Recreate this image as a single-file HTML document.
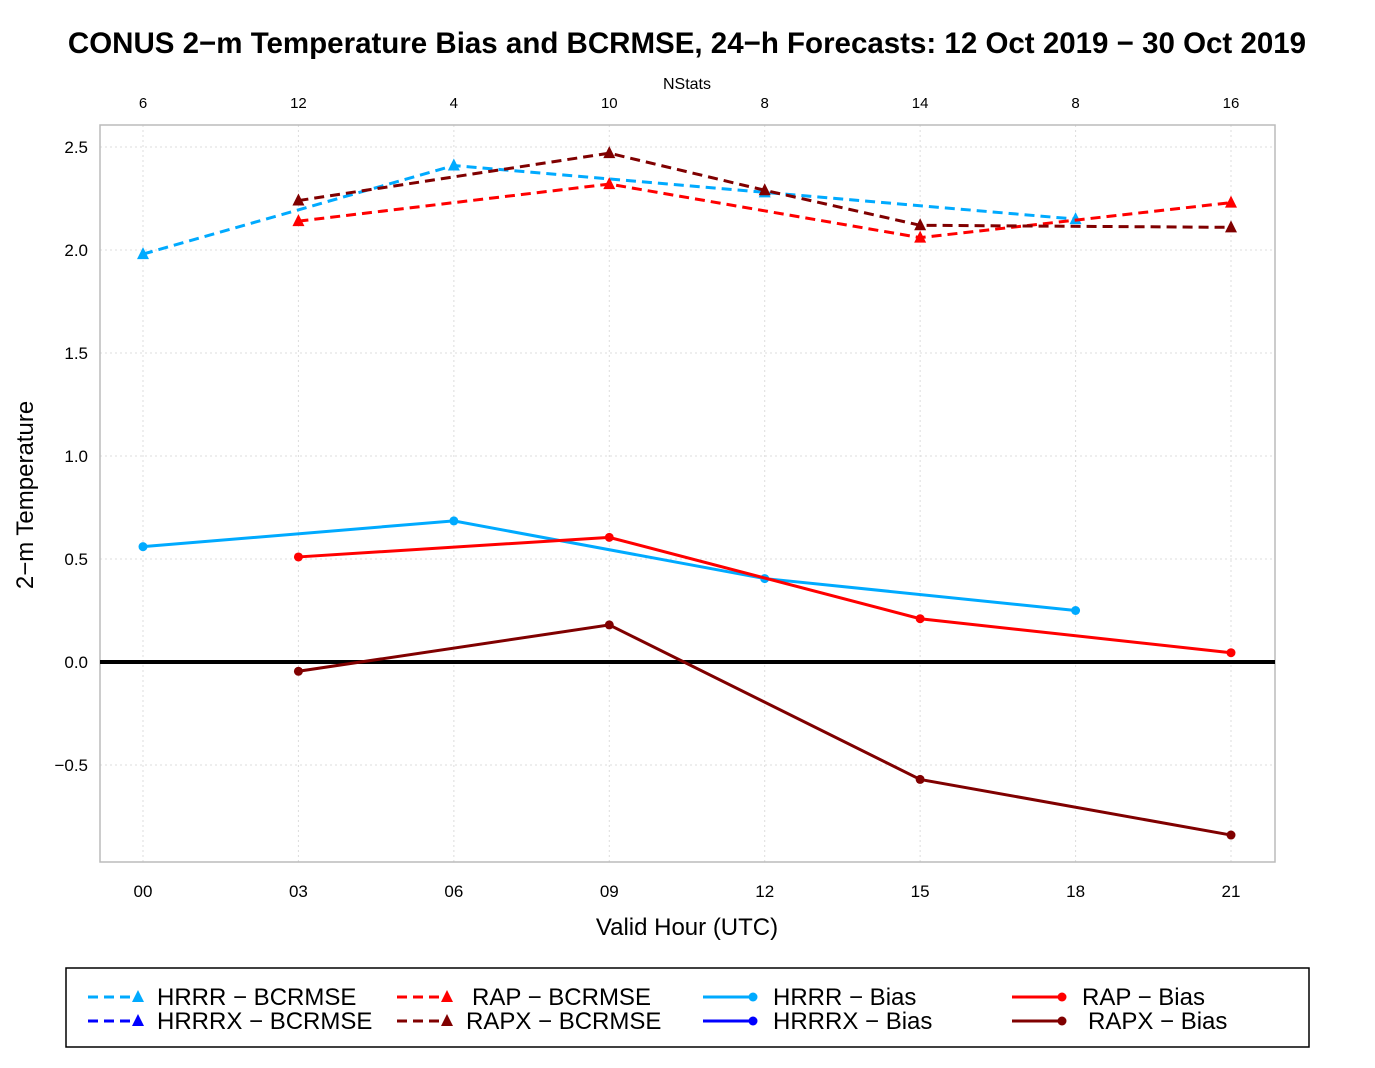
<!DOCTYPE html>
<html><head><meta charset="utf-8"><style>
body{margin:0;background:#fff;font-family:"Liberation Sans",sans-serif;}
svg text{font-family:"Liberation Sans",sans-serif;}
</style></head><body>
<svg id="chart" width="1375" height="1063" xmlns="http://www.w3.org/2000/svg">
<text x="687" y="53" text-anchor="middle" font-size="29.5" font-weight="bold">CONUS 2−m Temperature Bias and BCRMSE, 24−h Forecasts: 12 Oct 2019 − 30 Oct 2019</text>
<g id="grid"></g>
<rect x="100" y="125" width="1175" height="737" fill="none" stroke="#bbb" stroke-width="1.5"/>
<g id="axes"></g>
<g id="series"></g>
<text x="687" y="935" text-anchor="middle" font-size="24">Valid Hour (UTC)</text>
<text x="687" y="89" text-anchor="middle" font-size="16">NStats</text>
<text transform="translate(33,495) rotate(-90)" text-anchor="middle" font-size="24">2−m Temperature</text>
<rect x="66" y="968" width="1243" height="79" fill="none" stroke="#000" stroke-width="1.5"/>
<g id="legend"></g>
</svg>
<script>
const hours=[0,3,6,9,12,15,18,21];
const hourLabels=["00","03","06","09","12","15","18","21"];
const nstats=[6,12,4,10,8,14,8,16];
const yTicks=[-0.5,0,0.5,1,1.5,2,2.5];
const yTickLabels=["−0.5","0.0","0.5","1.0","1.5","2.0","2.5"];
const hrrrRmseHours=[0,6,12,18];
const hrrrRmse=[1.98,2.41,2.28,2.15];
const rapRmseHours=[3,9,15,21];
const rapRmse=[2.14,2.32,2.06,2.23];
const rapxRmseHours=[3,9,12,15,21];
const rapxRmse=[2.24,2.47,2.29,2.12,2.11];
const hrrrBiasHours=[0,6,12,18];
const hrrrBias=[0.56,0.685,0.405,0.25];
const rapBiasHours=[3,9,15,21];
const rapBias=[0.51,0.605,0.21,0.045];
const rapxBiasHours=[3,9,15,21];
const rapxBias=[-0.045,0.18,-0.57,-0.84];

const NS="http://www.w3.org/2000/svg";
const X=h=>143+h*(1231-143)/21;
const Y=v=>662-v*206;
function mk(tag,attrs,parent){const e=document.createElementNS(NS,tag);for(const k in attrs)e.setAttribute(k,attrs[k]);document.getElementById(parent).appendChild(e);return e;}
hours.forEach((h,i)=>{
 let l=mk('line',{x1:X(h),x2:X(h),y1:125,y2:862,stroke:'#ddd','stroke-dasharray':'2,3'},'grid');
 
 
 let t=mk('text',{x:X(h),y:897,'text-anchor':'middle','font-size':17},'axes');t.textContent=hourLabels[i];
 
 
 let n=mk('text',{x:X(h),y:108,'text-anchor':'middle','font-size':15},'axes');n.textContent=nstats[i];
 
 
});
yTicks.forEach((v,i)=>{
 let l=mk('line',{x1:100,x2:1275,y1:Y(v),y2:Y(v),stroke:'#ddd','stroke-dasharray':'2,3'},'grid');
 
 
 let t=mk('text',{x:88,y:Y(v)+6,'text-anchor':'end','font-size':17},'axes');t.textContent=yTickLabels[i];
 
 
});
let z=mk('line',{x1:100,x2:1275,y1:Y(0),y2:Y(0),stroke:'#000','stroke-width':4},'axes');


function tri(x,y,c,parent,name){let p=mk('polygon',{points:`${x},${y-7} ${x-6},${y+5} ${x+6},${y+5}`,fill:c},parent);}
function dot(x,y,c,parent,name){let p=mk('circle',{cx:x,cy:y,r:4.5,fill:c},parent);}
function series(hs,vs,c,dash,marker,name){
 let p=mk('polyline',{points:hs.map((h,i)=>X(h)+','+Y(vs[i])).join(' '),fill:'none',stroke:c,'stroke-width':3,'stroke-dasharray':dash},'series');
 
 
 hs.forEach((h,i)=>marker(X(h),Y(vs[i]),c,'series',name+'-point'));
}
series(hrrrRmseHours,hrrrRmse,'#00aaff','10,6',tri,'hrrr-bcrmse');
series(rapRmseHours,rapRmse,'#ff0000','10,6',tri,'rap-bcrmse');
series(rapxRmseHours,rapxRmse,'#800000','10,6',tri,'rapx-bcrmse');
series(hrrrBiasHours,hrrrBias,'#00aaff','',dot,'hrrr-bias');
series(rapBiasHours,rapBias,'#ff0000','',dot,'rap-bias');
series(rapxBiasHours,rapxBias,'#800000','',dot,'rapx-bias');
const legNames=["HRRR − BCRMSE","HRRRX − BCRMSE","RAP − BCRMSE","RAPX − BCRMSE","HRRR − Bias","HRRRX − Bias","RAP − Bias","RAPX − Bias"];
const legColors=['#00aaff','#0000ff','#ff0000','#800000','#00aaff','#0000ff','#ff0000','#800000'];
const legX=[88,88,397,397,703,703,1012,1012];
const legTX=[157,157,472,466,773,773,1082,1088];
legNames.forEach((nm,i)=>{
 const y=i%2?1021:997, c=legColors[i], dash=i<4?'10,6':'';
 let l=mk('line',{x1:legX[i],x2:legX[i]+50,y1:y,y2:y,stroke:c,'stroke-width':3,'stroke-dasharray':dash},'legend');
 
 
 if(i<4)tri(legX[i]+50,y,c,'legend','legend-marker');else dot(legX[i]+50,y,c,'legend','legend-marker');
 let t=mk('text',{x:legTX[i],y:y+8,'font-size':24},'legend');t.textContent=nm;
 
 
});
</script>
</body></html>
